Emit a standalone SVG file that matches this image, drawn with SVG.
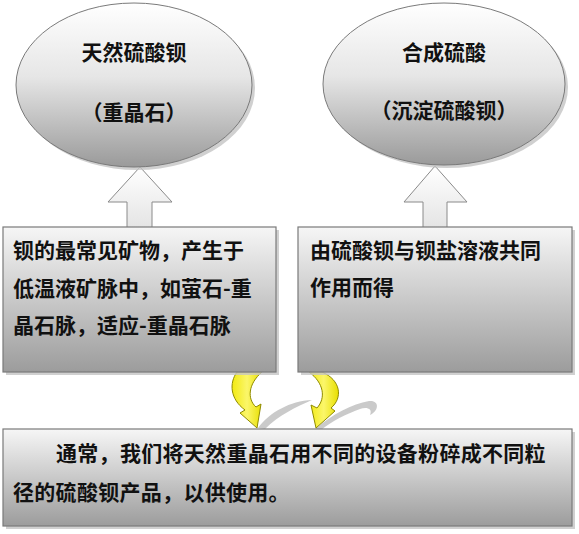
<svg xmlns="http://www.w3.org/2000/svg" width="579" height="534" viewBox="0 0 579 534">
<defs>
<linearGradient id="gEll" x1="0" y1="0" x2="0" y2="1">
<stop offset="0" stop-color="#ffffff"/>
<stop offset="0.45" stop-color="#e6e6e6"/>
<stop offset="1" stop-color="#9a9a9a"/>
</linearGradient>
<linearGradient id="gBox" x1="0" y1="0" x2="0" y2="1">
<stop offset="0" stop-color="#f6f6f6"/>
<stop offset="0.4" stop-color="#d2d2d2"/>
<stop offset="1" stop-color="#9c9c9c"/>
</linearGradient>
<linearGradient id="gArr" x1="0" y1="0" x2="0" y2="1">
<stop offset="0" stop-color="#ffffff"/>
<stop offset="1" stop-color="#e4e4e4"/>
</linearGradient>
<linearGradient id="gYel" x1="0" y1="0" x2="1" y2="0">
<stop offset="0" stop-color="#f2ea10"/>
<stop offset="0.5" stop-color="#fbf66a"/>
<stop offset="1" stop-color="#e8df00"/>
</linearGradient>
</defs>
<style>
.ell{fill:url(#gEll);stroke:#7a7a7a;stroke-width:1}
.box{fill:url(#gBox);stroke:#7a7a7a;stroke-width:1.2}
.shd{fill:#c4c4c4;opacity:0.8}
.up{fill:url(#gArr);stroke:#8a8a8a;stroke-width:1}
.yel{fill:url(#gYel);stroke:#8f8a00;stroke-width:1}
.ys{fill:#bdbdbd;opacity:0.8}
.t{font-family:"Microsoft YaHei","Noto Sans CJK SC",sans-serif;font-weight:bold;font-size:21px;fill:#111}
.c{text-anchor:middle}
</style>
<rect width="579" height="534" fill="#ffffff"/>
<g id="connectors">
<path class="up" d="M140,167 L172,202 L152,202 L152,228 L127,228 L127,202 L108,202 Z"/>
<path class="up" d="M435,166 L467,202 L447,202 L447,228 L423,228 L423,202 L404,202 Z"/>
<path class="ys" d="M258,428 C270,412 290,401 312,400 C296,407 279,415 265,429 Z"/>
<path class="ys" d="M315,429 C333,414 352,404 369,401 C380,400 379,411 370,415 C373,408 366,407 360,409 C346,414 332,421 321,430 Z"/>
<path class="yel" d="M237,372 C229,383 230,399 245,410 L240,413 L257,428 L261,404 L256,407 C247,399 248,384 262,372 Z"/>
<path class="yel" d="M322,372 C341,380 343,398 331,408 L335,411 L316,428 L311,405 L317,408 C326,398 324,383 309,372 Z"/>
</g>
<g id="node-natural">
<ellipse cx="137" cy="88" rx="118" ry="82" class="shd"/>
<ellipse cx="134" cy="85" rx="118" ry="82" class="ell"/>
<text class="t c" x="134" y="60">天然硫酸钡</text>
<text class="t c" x="134" y="120">（重晶石）</text>
</g>
<g id="node-synthetic">
<ellipse cx="447" cy="87" rx="121" ry="81" class="shd"/>
<ellipse cx="444" cy="84" rx="121" ry="81" class="ell"/>
<text class="t c" x="444" y="60">合成硫酸</text>
<text class="t c" x="444" y="118">（沉淀硫酸钡）</text>
</g>
<g id="node-box1">
<rect x="6" y="230" width="273" height="145" class="shd"/>
<rect x="3" y="227" width="273" height="145" class="box"/>
<text class="t" x="13" y="258">钡的最常见矿物，产生于</text>
<text class="t" x="13" y="296">低温液矿脉中，如萤石-重</text>
<text class="t" x="13" y="333">晶石脉，适应-重晶石脉</text>
</g>
<g id="node-box2">
<rect x="301" y="230" width="274" height="145" class="shd"/>
<rect x="298" y="227" width="274" height="145" class="box"/>
<text class="t" x="310" y="258">由硫酸钡与钡盐溶液共同</text>
<text class="t" x="310" y="295">作用而得</text>
</g>
<g id="node-bottom">
<rect x="6" y="432" width="569" height="97" class="shd"/>
<rect x="3" y="429" width="569" height="97" class="box"/>
<text class="t" x="56" y="461" letter-spacing="0.3">通常，我们将天然重晶石用不同的设备粉碎成不同粒</text>
<text class="t" x="13" y="500" letter-spacing="0.3">径的硫酸钡产品，以供使用。</text>
</g>
</svg>
